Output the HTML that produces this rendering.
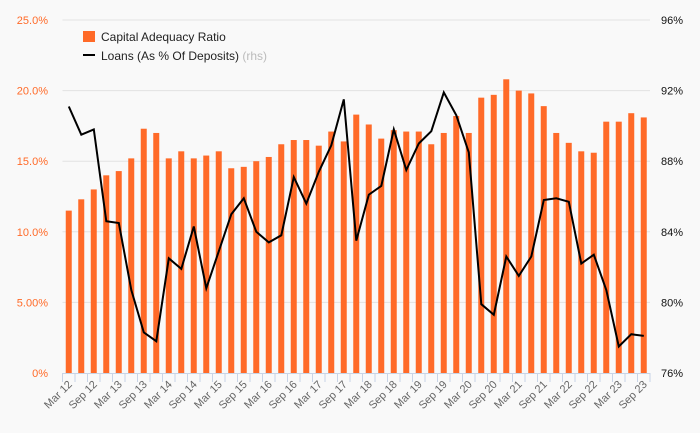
<!DOCTYPE html>
<html><head><meta charset="utf-8"><style>
html,body{margin:0;padding:0;background:#f9f9f9;}
svg{display:block;font-family:"Liberation Sans",sans-serif;}
</style></head><body>
<svg id="chart" width="700" height="433" viewBox="0 0 700 433">
<rect width="700" height="433" fill="#f9f9f9"/>
<g id="grid"></g><g id="bars"></g><g id="line"></g><g id="axes"></g>
<g>
<rect x="83" y="31" width="12" height="11" fill="#ff6a28"/>
<text x="101" y="41" font-size="12" fill="#222">Capital Adequacy Ratio</text>
<rect x="83" y="54" width="12" height="2" fill="#000"/>
<text x="101" y="60" font-size="12" fill="#222">Loans (As % Of Deposits) <tspan fill="#bbb">(rhs)</tspan></text>
</g>
</svg>
<script>
const categories=["Mar 12","Jun 12","Sep 12","Dec 12","Mar 13","Jun 13","Sep 13","Dec 13","Mar 14","Jun 14","Sep 14","Dec 14","Mar 15","Jun 15","Sep 15","Dec 15","Mar 16","Jun 16","Sep 16","Dec 16","Mar 17","Jun 17","Sep 17","Dec 17","Mar 18","Jun 18","Sep 18","Dec 18","Mar 19","Jun 19","Sep 19","Dec 19","Mar 20","Jun 20","Sep 20","Dec 20","Mar 21","Jun 21","Sep 21","Dec 21","Mar 22","Jun 22","Sep 22","Dec 22","Mar 23","Jun 23","Sep 23"];
const carValues=[11.5,12.3,13.0,14.0,14.3,15.2,17.3,17.0,15.2,15.7,15.2,15.4,15.7,14.5,14.6,15.0,15.3,16.2,16.5,16.5,16.1,17.1,16.4,18.3,17.6,16.6,17.2,17.1,17.1,16.2,17.0,18.2,17.0,19.5,19.7,20.8,20.0,19.8,18.9,17.0,16.3,15.7,15.6,17.8,17.8,18.4,18.1];
const loanValues=[91.1,89.5,89.8,84.6,84.5,80.7,78.3,77.8,82.5,81.9,84.3,80.8,82.9,85.0,85.9,84.0,83.4,83.8,87.1,85.6,87.4,88.9,91.5,83.5,86.1,86.6,89.8,87.5,89.0,89.7,91.9,90.6,88.5,79.9,79.3,82.6,81.5,82.6,85.8,85.9,85.7,82.2,82.7,80.7,77.5,78.2,78.1];
const leftTicks=["0%","5.00%","10.0%","15.0%","20.0%","25.0%"];
const leftTickValues=[0,5,10,15,20,25];
const rightTicks=["76%","80%","84%","88%","92%","96%"];
const rightTickValues=[76,80,84,88,92,96];

const NS="http://www.w3.org/2000/svg";
const X0=62.5,X1=650,Y0=373,Y1=20;
const step=(X1-X0)/categories.length;
const xc=i=>X0+step*(i+0.5);
const yL=v=>Y0-(v-0)/(25-0)*(Y0-Y1);
const yR=v=>Y0-(v-76)/(96-76)*(Y0-Y1);
function mk(tag,attrs,parent){const e=document.createElementNS(NS,tag);for(const k in attrs)e.setAttribute(k,attrs[k]);parent.appendChild(e);return e;}
const grid=document.getElementById('grid'),bars=document.getElementById('bars'),line=document.getElementById('line'),axes=document.getElementById('axes');
leftTickValues.forEach((v,i)=>{
  const y=yL(v);
  if(v>0){const g=mk('line',{x1:X0,x2:X1,y1:y,y2:y,stroke:'#e2e2e2','stroke-width':1},grid);
  
  }
  const t=mk('text',{x:48,y:y+4,'text-anchor':'end','font-size':11,fill:'#ff6a28'},axes);
  t.textContent=leftTicks[i];
  
  
});
rightTickValues.forEach((v,i)=>{
  const t=mk('text',{x:672,y:yR(v)+4,'text-anchor':'middle','font-size':11,fill:'#111'},axes);
  t.textContent=rightTicks[i];
  
  
});
carValues.forEach((v,i)=>{
  const r=mk('rect',{x:xc(i)-3,y:yL(v),width:6,height:Y0-yL(v),fill:'#ff6a28'},bars);
  
  
});
const pts=loanValues.map((v,i)=>xc(i).toFixed(1)+','+yR(v).toFixed(1)).join(' ');
const pl=mk('polyline',{points:pts,fill:'none',stroke:'#000','stroke-width':2,'stroke-linejoin':'miter'},line);


const ax=mk('line',{x1:X0,x2:X1,y1:Y0+0.5,y2:Y0+0.5,stroke:'#c8d4e6','stroke-width':1},axes);


for(let i=0;i<=categories.length;i++){
  const x=X0+step*i;
  const tk=mk('line',{x1:x,x2:x,y1:Y0,y2:Y0+9,stroke:'#c8d4e6','stroke-width':1},axes);
  
  
}
categories.forEach((c,i)=>{
  if(i%2)return;
  const x=xc(i)+4,y=Y0+12;
  const t=mk('text',{x:x,y:y,'text-anchor':'end','font-size':11,fill:'#666',transform:`rotate(-45 ${x} ${y})`},axes);
  t.textContent=c;
  
  
});
</script>
</body></html>
